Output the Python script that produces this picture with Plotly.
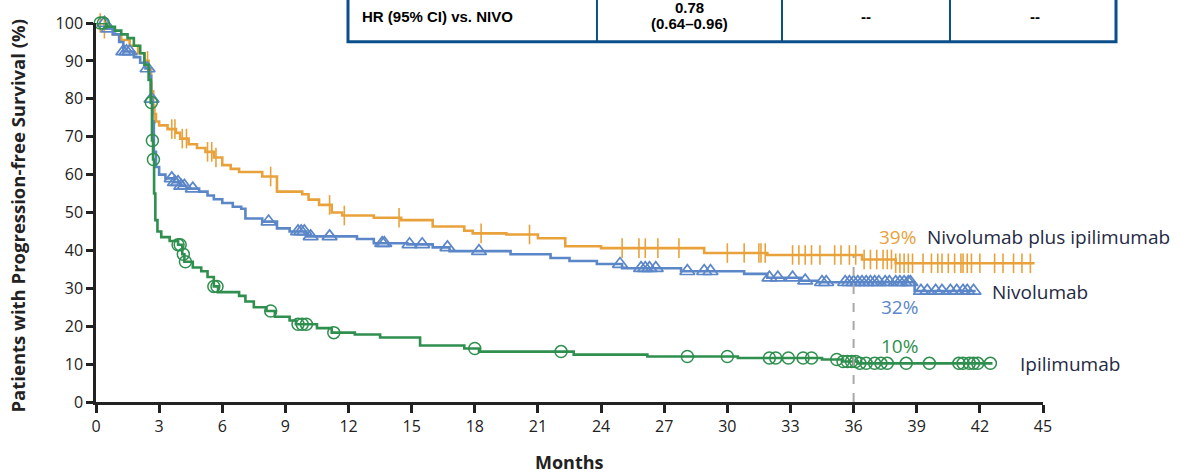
import numpy as np
import plotly.graph_objects as go

# Kaplan-Meier step data (months, % progression-free)
combo_t = [0, 0.4, 0.8, 1.2, 1.6, 2.0, 2.3, 2.5, 2.62, 2.72, 2.85, 3.0, 3.4, 3.8, 4.0, 4.4, 4.8,
           5.2, 5.6, 6.0, 6.4, 6.8, 7.9, 8.6, 9.8, 10.1, 10.6, 11.2, 11.7, 13.2, 14.5, 16.0,
           17.5, 17.9, 19.5, 21.0, 22.3, 24.0, 28.9, 31.9, 36.4, 38.0, 44.6]
combo_s = [100, 98.5, 97, 95.5, 94, 92, 90, 88, 82, 76, 74, 73, 72, 71, 69.5, 68, 67,
           66, 64.5, 62.5, 61.5, 60.7, 59.5, 55.5, 54.8, 53.4, 52, 50, 49.2, 48.6, 48, 46.3,
           45.2, 44.5, 44.2, 43.2, 41.1, 40.6, 39.3, 38.8, 37.6, 36.6, 36.6]
combo_cens = [0.2, 0.4, 2.45, 2.66, 2.8, 3.6, 3.75, 4.1, 4.3, 5.3, 5.5, 5.7, 8.3, 11.1, 11.8,
              14.4, 18.3, 20.6, 25.0, 25.8, 26.1, 26.7, 27.7, 30.0, 30.8, 31.5, 31.6, 31.8,
              33.1, 33.4, 33.7, 34.0, 34.4, 35.1, 35.4, 35.8, 36.1, 36.5, 36.8, 37.1, 37.4,
              37.6, 37.8, 38.0, 38.2, 38.4, 38.6, 38.8, 39.3, 39.7, 40.0, 40.2, 40.5, 40.8,
              41.1, 41.2, 41.4, 41.6, 42.0, 42.7, 43.1, 43.6, 44.0, 44.4]

nivo_t = [0, 0.5, 0.8, 1.1, 1.3, 1.8, 2.1, 2.35, 2.55, 2.62, 2.68, 2.75, 2.85, 3.0, 3.3, 3.7,
          4.0, 4.3, 4.9, 5.3, 5.6, 6.0, 6.5, 6.9, 7.1, 7.9, 8.6, 9.2, 10.0, 12.4, 13.2, 14.8,
          16.0, 16.8, 19.7, 21.6, 22.5, 23.8, 25.0, 27.8, 30.8, 31.9, 33.5, 34.3, 38.9, 41.8]
nivo_s = [100, 98.5, 97, 95, 92.5, 91, 89.5, 88, 86, 80, 74, 66, 62, 60, 59, 58,
          57, 56.3, 55.5, 54.5, 53.5, 52.5, 51.5, 51, 48.4, 47.6, 45.8, 45, 43.7, 43, 41.9, 41.6,
          40.8, 39.8, 39, 38, 37.2, 36.4, 35.3, 34.5, 33.8, 32.8, 32.0, 31.6, 29.3, 29.3]
nivo_cens = [0.4, 0.6, 1.3, 1.45, 1.6, 2.45, 2.64, 3.6, 3.75, 3.9, 4.05, 4.2, 4.6, 8.2, 9.6,
             9.75, 9.9, 10.2, 11.1, 13.6, 13.7, 14.9, 15.5, 16.7, 18.2, 24.9, 25.9, 26.1,
             26.3, 26.6, 28.1, 28.9, 29.2, 32.0, 32.4, 33.1, 33.7, 34.5, 34.7, 35.6, 35.8,
             36.0, 36.2, 36.4, 36.6, 36.8, 37.0, 37.2, 37.5, 37.7, 38.0, 38.2, 38.4, 38.6,
             38.7, 39.2, 39.5, 39.9, 40.2, 40.6, 40.9, 41.2, 41.4, 41.7]

ipi_t = [0, 0.5, 0.9, 1.2, 1.5, 1.8, 2.1, 2.3, 2.5, 2.6, 2.66, 2.71, 2.76, 2.82, 2.92, 3.1,
         3.5, 3.9, 4.1, 4.2, 4.6, 5.0, 5.3, 5.6, 5.8, 6.8, 7.1, 7.5, 8.1, 8.5, 9.2, 9.5,
         10.5, 11.2, 12.3, 13.5, 15.4, 17.5, 18.2, 22.7, 26.2, 30.5, 34.5, 35.5, 36.2, 42.6]
ipi_s = [100, 99, 98, 97, 96, 94, 92, 89, 85, 79, 69, 64, 55, 48, 45, 43.5,
         42.5, 41.5, 39, 37, 35.5, 34.5, 33, 30.5, 29, 28, 26.5, 25, 24, 22.5, 21.5, 20.5,
         19.5, 18.3, 17.8, 17, 14.9, 14.1, 13.3, 12.5, 12.0, 11.6, 11.2, 10.7, 10.2, 10.2]
ipi_cens = [0.2, 0.35, 2.63, 2.68, 2.73, 3.9, 4.0, 4.15, 4.25, 5.6, 5.75, 8.3, 9.6, 9.8,
            10.0, 11.3, 18.0, 22.1, 28.1, 30.0, 32.0, 32.3, 32.9, 33.6, 34.0, 35.2, 35.5,
            35.7, 35.9, 36.1, 36.3, 36.6, 37.0, 37.3, 37.6, 38.5, 39.6, 41.0, 41.2, 41.5,
            41.7, 41.9, 42.5]

x_ticks = list(range(0, 46, 3))
y_ticks = list(range(0, 101, 10))

ORANGE = "#E9A23B"
BLUE = "#5B86C8"
GREEN = "#2F8F4E"
NAVY = "#1F2A44"
FONT = "Open Sans, sans-serif"


def step_value(times, surv, t):
    idx = np.searchsorted(np.array(times), t, side="right") - 1
    return np.array(surv)[idx]


fig = go.Figure()

arms = [
    (combo_t, combo_s, combo_cens, ORANGE, dict(symbol="line-ns-open", size=14, line=dict(width=1.6, color=ORANGE))),
    (nivo_t, nivo_s, nivo_cens, BLUE, dict(symbol="triangle-up-open", size=13, line=dict(width=1.7, color=BLUE))),
    (ipi_t, ipi_s, ipi_cens, GREEN, dict(symbol="circle-open", size=12, line=dict(width=1.5, color=GREEN))),
]

for t, s, cens, color, marker in arms:
    fig.add_trace(go.Scatter(x=t, y=s, mode="lines", line=dict(color=color, width=2.6, shape="hv"),
                             cliponaxis=False, showlegend=False, hoverinfo="skip"))
    cy = [step_value(t, s, c) for c in cens]
    fig.add_trace(go.Scatter(x=cens, y=cy, mode="markers", marker=dict(color=color, **marker),
                             cliponaxis=False, showlegend=False))

# 36-month landmark
fig.add_shape(type="line", x0=36, x1=36, y0=0, y1=38.5, xref="x", yref="y",
              line=dict(color="#A8A8A8", width=2, dash="dash"), layer="above")

# Arm labels and 36-month rates
labels = [
    (37.1, 43.5, "39%", ORANGE), (39.4, 43.5, "Nivolumab plus ipilimumab", NAVY),
    (42.5, 29.0, "Nivolumab", NAVY), (37.2, 25.1, "32%", BLUE),
    (37.2, 14.9, "10%", GREEN), (43.8, 9.9, "Ipilimumab", NAVY),
]
for x, y, txt, col in labels:
    fig.add_annotation(x=x, y=y, xref="x", yref="y", text=txt, showarrow=False,
                       xanchor="left", yanchor="middle", font=dict(family=FONT, size=19, color=col))

# Hazard-ratio table row
TB = "#0B4F8A"
fig.add_shape(type="rect", xref="paper", yref="paper", x0=0.2661, x1=1.0771, y0=0.9503, y1=1.12,
              line=dict(color=TB, width=3), fillcolor="white", layer="above")
for xv in [0.529, 0.7244, 0.9018]:
    fig.add_shape(type="line", xref="paper", yref="paper", x0=xv, x1=xv, y0=0.9503, y1=1.12,
                  line=dict(color=TB, width=2), layer="above")
tfont = dict(family="Liberation Sans, Arial, sans-serif", size=15, color="black")
fig.add_annotation(xref="paper", yref="paper", x=0.2788, y=1.018, text="<b>HR (95% CI) vs. NIVO</b>",
                   showarrow=False, xanchor="left", yanchor="middle", font=tfont)
fig.add_annotation(xref="paper", yref="paper", x=0.627, y=1.040, text="<b>0.78</b>",
                   showarrow=False, xanchor="center", yanchor="middle", font=tfont)
fig.add_annotation(xref="paper", yref="paper", x=0.627, y=0.9985, text="<b>(0.64–0.96)</b>",
                   showarrow=False, xanchor="center", yanchor="middle", font=tfont)
for xv in [0.813, 0.9915]:
    fig.add_annotation(xref="paper", yref="paper", x=xv, y=1.018, text="<b>--</b>",
                       showarrow=False, xanchor="center", yanchor="middle", font=tfont)

# Axis titles
fig.add_annotation(xref="paper", yref="paper", x=-0.0834, y=0.4895, textangle=-90,
                   xanchor="center", yanchor="middle",
                   text="<b>Patients with Progression-free Survival (%)</b>", showarrow=False,
                   font=dict(family=FONT, size=18.5, color="#222222"))
fig.add_annotation(xref="paper", yref="paper", x=0.5005, y=-0.157, text="<b>Months</b>",
                   xanchor="center", yanchor="middle", showarrow=False,
                   font=dict(family=FONT, size=18, color="#222222"))

fig.update_layout(
    width=1179, height=473,
    margin=dict(l=96, r=136, t=20, b=71),
    plot_bgcolor="white", paper_bgcolor="white",
    font=dict(family=FONT, size=16, color="#222222"),
)
fig.update_xaxes(range=[0, 45], tickvals=x_ticks, showgrid=False, zeroline=False,
                 showline=True, linecolor="#222222", linewidth=2.5,
                 ticks="outside", ticklen=8, tickwidth=2.5, tickcolor="#222222")
fig.update_yaxes(range=[0, 100], tickvals=y_ticks, showgrid=False, zeroline=False,
                 showline=True, linecolor="#222222", linewidth=2.5,
                 ticks="outside", ticklen=7, tickwidth=2.5, tickcolor="#222222")

fig.write_html("out.html")
